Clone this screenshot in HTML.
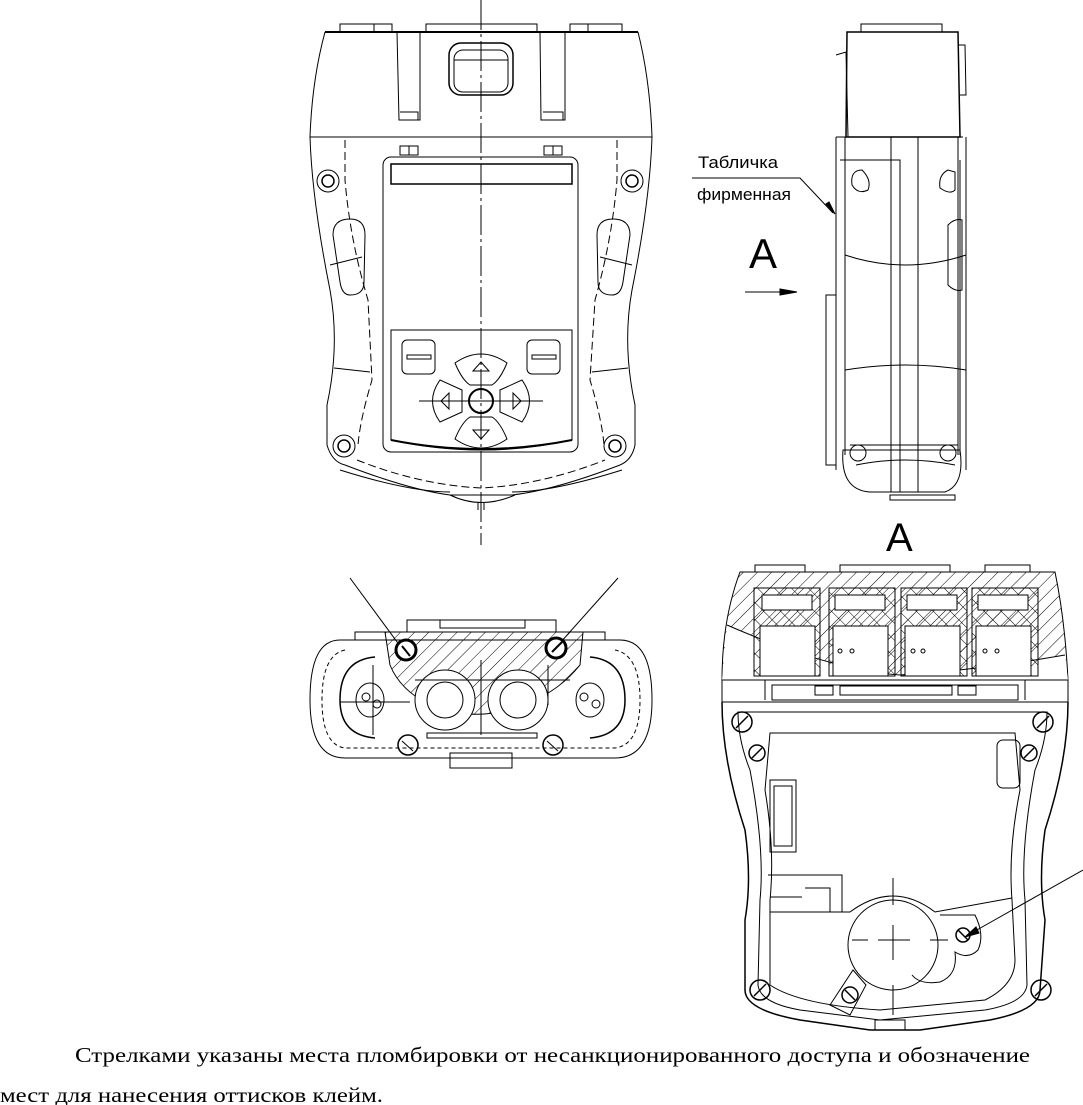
<!DOCTYPE html>
<html><head><meta charset="utf-8"><style>
html,body{margin:0;padding:0;background:#fff;}
svg{display:block;}
text{font-family:"Liberation Sans",sans-serif;}
</style></head><body>
<svg width="1083" height="1105" viewBox="0 0 1083 1105" xmlns="http://www.w3.org/2000/svg" fill="none" stroke="#000" stroke-width="1">
<defs>
<pattern id="h" width="10" height="10" patternUnits="userSpaceOnUse" patternTransform="rotate(45)"><line x1="0" y1="0" x2="0" y2="10" stroke="#000" stroke-width="1"/></pattern>
<pattern id="x" width="12" height="12" patternUnits="userSpaceOnUse" patternTransform="rotate(45)"><line x1="0" y1="0" x2="0" y2="12" stroke="#000"/><line x1="0" y1="0" x2="12" y2="0" stroke="#000"/></pattern>
</defs>

<!-- ===== FRONT VIEW ===== -->
<line x1="481" y1="0" x2="481" y2="545" stroke-dasharray="30,4,3,4"/>
<rect x="340" y="24" width="52" height="8"/><line x1="374" y1="24" x2="374" y2="32"/>
<rect x="426" y="24" width="111" height="8"/>
<rect x="570" y="24" width="52" height="8"/><line x1="588" y1="24" x2="588" y2="32"/>
<line x1="325" y1="32" x2="638" y2="32" stroke-width="2"/>
<path d="M325 32 Q312 80 310 137 L652 137 Q650 80 638 32"/>
<path d="M397 32 L399 120 L420 120 L420 32 M400 112 H418 V120"/>
<path d="M540 32 L541 120 L565 120 L565 32 M543 112 H563 V120"/>
<rect x="449" y="43" width="64" height="52" rx="12" stroke-width="1.5"/>
<rect x="454" y="50" width="54" height="42" rx="9"/>
<line x1="454" y1="60" x2="508" y2="60"/>
<rect x="400" y="146" width="18" height="9"/><line x1="409" y1="146" x2="409" y2="155"/>
<rect x="544" y="146" width="18" height="9"/><line x1="553" y1="146" x2="553" y2="155"/>
<path d="M310 137 Q312 200 330 290 Q340 345 327 405 L327 445 Q332 462 345 465 Q410 490 450 495 L512 495 Q555 490 620 465 Q632 460 635 445 L635 405 Q622 345 632 290 Q650 200 652 137"/>
<path d="M345 140 L345 180 Q350 240 368 300 L372 380 Q360 420 358 445" stroke-dasharray="8,4"/>
<path d="M617 140 L617 180 Q612 240 595 300 L590 380 Q602 420 604 445" stroke-dasharray="8,4"/>
<path d="M357 460 Q420 485 481 488 Q542 485 605 460" stroke-dasharray="8,4"/>
<path d="M340 470 Q410 492 450 492 M512 492 Q552 492 622 470"/>
<rect x="383" y="157" width="195" height="295" rx="8" ry="8"/>
<rect x="391" y="164" width="181" height="20" stroke-width="1.5"/>
<path d="M391 330 H572 V440 Q481 460 391 440 Z"/>
<path d="M391 440 Q481 458 572 440" stroke-width="2"/>
<rect x="402" y="340" width="33" height="34" rx="5"/><rect x="407" y="355" width="24" height="4"/>
<rect x="527" y="340" width="33" height="34" rx="5"/><rect x="532" y="355" width="24" height="4"/>
<path d="M455 363 Q481 345 507 363 Q500 380 492 385 L470 385 Q462 380 455 363 Z"/>
<path d="M455 439 Q481 457 507 439 Q500 422 492 417 L470 417 Q462 422 455 439 Z"/>
<path d="M440 380 Q425 401 440 422 L462 412 L462 390 Z"/>
<path d="M522 380 Q537 401 522 422 L500 412 L500 390 Z"/>
<circle cx="481" cy="401" r="12" stroke-width="2"/>
<path d="M473 371 L481 362 L489 371 Z M473 430 L481 439 L489 430 Z M449 393 L441 401 L449 409 Z M513 393 L521 401 L513 409 Z"/>
<line x1="419" y1="401" x2="543" y2="401"/>
<circle cx="328" cy="181" r="11"/><circle cx="328" cy="181" r="6" stroke-width="1.5"/>
<circle cx="632" cy="181" r="11"/><circle cx="632" cy="181" r="6" stroke-width="1.5"/>
<circle cx="344" cy="446" r="11"/><circle cx="344" cy="446" r="6" stroke-width="1.5"/>
<circle cx="615" cy="446" r="11"/><circle cx="615" cy="446" r="6" stroke-width="1.5"/>
<path d="M333 235 Q333 219 350 219 Q365 219 365 235 L364 282 Q364 295 350 295 Q342 295 340 282 Z"/>
<path d="M630 235 Q630 219 613 219 Q597 219 597 235 L598 282 Q598 295 612 295 Q621 295 623 282 Z"/>
<path d="M330 265 L362 257 M632 265 L600 257 M334 368 L370 372 M628 368 L592 372"/>
<path d="M450 495 Q481 510 515 495 M478 502 V510 M484 502 V510"/>

<!-- ===== SIDE VIEW ===== -->
<text x="698" y="168" font-size="17" fill="#000" stroke="none" textLength="80" lengthAdjust="spacingAndGlyphs">Табличка</text>
<text x="697" y="200" font-size="17" fill="#000" stroke="none" textLength="94" lengthAdjust="spacingAndGlyphs">фирменная</text>
<path d="M692 178 H800 L833 213"/>
<path d="M826 204 L835 214 L829 202 Z" fill="#000"/>
<text x="749" y="268" font-size="42" fill="#000" stroke="none">A</text>
<line x1="745" y1="292" x2="785" y2="292"/>
<path d="M780 289 L797 292 L780 295 Z" fill="#000"/>
<rect x="861" y="24" width="81" height="8"/>
<path d="M847 32 H958 L960 137 H846 Z" stroke-width="1.5"/>
<path d="M836 137 H963 M836 137 L836 470 M966 137 L966 470"/>
<path d="M845 137 V455 M958 137 V455 M960 160 V455"/>
<path d="M836 55 L846 52 L848 137"/>
<path d="M958 45 L965 45 L966 95 L960 95"/>
<rect x="826" y="295" width="10" height="170"/>
<path d="M891 137 V492 M918 137 V492 M840 160 H900 V492" />
<path d="M845 255 Q905 275 966 255"/><path d="M845 370 Q905 360 966 370"/>
<path d="M862 170 Q850 170 852 185 Q858 195 868 190 Q872 180 862 170 Z"/>
<path d="M948 170 Q938 175 940 188 Q950 195 955 190 L955 172 Z"/>
<path d="M948 225 Q955 218 962 220 L962 290 Q955 292 948 285 Z"/>
<path d="M843 450 Q840 490 870 492 L945 492 Q965 485 960 450 Z"/>
<path d="M850 445 H958 M856 465 Q905 455 955 465"/>
<circle cx="858" cy="453" r="8"/><circle cx="948" cy="453" r="8"/>
<path d="M890 495 H955 V500 H890 Z"/>

<!-- ===== BOTTOM VIEW ===== -->
<path d="M350 578 L403 650 M618 578 L560 643"/>
<rect x="407" y="620" width="149" height="12"/><rect x="440" y="620" width="85" height="8"/>
<path d="M355 632 H605 V640 H355 Z"/>
<path d="M340 640 Q310 640 310 700 Q310 758 345 758 L615 758 Q652 758 652 700 Q652 640 620 640 Z"/>
<path d="M345 650 Q322 655 322 700 Q322 745 345 748 L615 748 Q640 745 640 700 Q640 655 615 650" stroke-dasharray="4,3"/>
<path d="M375 657 Q340 660 340 700 Q340 735 375 738 M590 657 Q625 660 625 700 Q625 735 590 738" stroke-width="1.5"/>
<path d="M385 632 L583 632 L580 665 Q560 690 530 702 Q480 725 430 705 Q400 690 390 665 Z" fill="url(#h)"/>
<circle cx="445" cy="700" r="30" fill="#fff"/><circle cx="518" cy="700" r="30" fill="#fff"/>
<circle cx="445" cy="700" r="18"/><circle cx="518" cy="700" r="18"/>
<circle cx="406" cy="650" r="10" stroke-width="3" fill="#fff"/><line x1="402" y1="646" x2="410" y2="656" stroke-width="2"/>
<circle cx="556" cy="648" r="10" stroke-width="3" fill="#fff"/><line x1="552" y1="652" x2="562" y2="642" stroke-width="2"/>
<circle cx="408" cy="745" r="10" stroke-width="1.5"/><line x1="402" y1="741" x2="413" y2="751"/>
<circle cx="553" cy="745" r="10" stroke-width="1.5"/><line x1="547" y1="741" x2="558" y2="751"/>
<ellipse cx="370" cy="700" rx="14" ry="17"/><ellipse cx="590" cy="700" rx="14" ry="17"/>
<circle cx="366" cy="697" r="4"/><circle cx="377" cy="704" r="4"/><circle cx="584" cy="697" r="4"/><circle cx="596" cy="704" r="4"/>
<path d="M340 702 H410 M373 665 V735 M415 680 H570 M481 660 V735 M548 665 V705"/>
<rect x="427" y="733" width="110" height="5"/>
<rect x="450" y="753" width="62" height="15"/>

<!-- ===== VIEW A ===== -->
<text x="886" y="551" font-size="40" fill="#000" stroke="none">A</text>
<path d="M1083 870 L968 935"/><path d="M965 937 L976 927 L979 933 Z" fill="#000"/>
<rect x="755" y="565" width="50" height="7"/><rect x="840" y="565" width="110" height="7"/><rect x="985" y="565" width="45" height="7"/>
<path d="M740 572 H1055 Q1065 620 1068 680 L722 680 Q722 620 740 572 Z" fill="url(#h)"/>
<path d="M727 625 Q830 670 900 675 Q980 670 1065 655 L1068 680 L722 680 Z" fill="#fff" stroke="none"/>
<path d="M727 625 Q830 670 900 675 Q980 670 1065 655"/>
<g fill="url(#x)">
<rect x="754" y="588" width="66" height="88"/><rect x="829" y="588" width="66" height="88"/>
<rect x="901" y="588" width="66" height="88"/><rect x="972" y="588" width="66" height="88"/>
</g>
<g fill="#fff">
<rect x="760" y="626" width="55" height="50"/><rect x="833" y="626" width="55" height="50"/>
<rect x="905" y="626" width="55" height="50"/><rect x="976" y="626" width="55" height="50"/>
<rect x="762" y="595" width="50" height="15"/><rect x="835" y="595" width="50" height="15"/>
<rect x="907" y="595" width="50" height="15"/><rect x="978" y="595" width="50" height="15"/>
</g>
<circle cx="840" cy="651" r="2"/><circle cx="852" cy="651" r="2"/><circle cx="913" cy="651" r="2"/><circle cx="923" cy="651" r="2"/><circle cx="985" cy="651" r="2"/><circle cx="997" cy="651" r="2"/>
<path d="M722 680 V702 H1068 V680 Z M765 680 V700 M1025 680 V700"/>
<path d="M772 685 H1018 V700 H772 Z"/><rect x="815" y="686" width="18" height="9"/><rect x="958" y="686" width="18" height="9"/><rect x="840" y="686" width="112" height="9"/>
<path d="M722 702 Q722 760 745 830 Q752 880 745 920 L745 990 Q745 1010 800 1020 L870 1030 L920 1030 L990 1020 Q1040 1010 1040 990 L1045 920 Q1038 880 1045 830 Q1068 760 1068 702" stroke-width="1.5"/>
<path d="M738 712 Q738 740 750 770 Q765 850 760 900 L758 985 Q760 1003 800 1010 L880 1020 L985 1010 Q1025 1003 1027 985 L1025 900 Q1020 850 1035 770 Q1047 740 1047 712 Z"/>
<path d="M770 733 L765 790 Q775 850 770 900 L770 985 Q800 1005 880 1010 L985 1000 Q1015 985 1015 960 L1012 900 Q1008 850 1020 790 L1015 733 Z"/>
<path d="M773 733 H1012"/>
<path d="M770 912 H840 L850 912 Q893 880 935 912 L1012 898"/>
<rect x="770" y="780" width="26" height="72"/><rect x="774" y="786" width="18" height="60"/>
<rect x="997" y="740" width="23" height="48" rx="6"/>
<path d="M768 875 H842 V912 M805 888 H830 V912 M770 897 H802"/>
<circle cx="893" cy="945" r="45"/>
<path d="M852 940 H868 M878 940 H910 M893 925 V960 M930 940 H948 M893 878 V905 M893 985 V1015"/>
<path d="M940 915 H975 Q985 935 978 950 Q968 960 955 952 Q958 975 940 982 Q920 985 912 975" />
<path d="M853 970 L866 985 L850 1015 L830 1005 Z"/>
<g stroke-width="1.5">
<circle cx="742" cy="722" r="10"/><line x1="736" y1="728" x2="748" y2="716"/>
<circle cx="1043" cy="722" r="10"/><line x1="1037" y1="728" x2="1049" y2="716"/>
<circle cx="757" cy="753" r="8"/><line x1="752" y1="758" x2="762" y2="748"/>
<circle cx="1029" cy="753" r="8"/><line x1="1024" y1="758" x2="1034" y2="748"/>
<circle cx="760" cy="990" r="10"/><line x1="754" y1="996" x2="766" y2="984"/>
<circle cx="1041" cy="990" r="10"/><line x1="1035" y1="996" x2="1047" y2="984"/>
<circle cx="850" cy="995" r="8"/><line x1="845" y1="990" x2="855" y2="1000"/>
<circle cx="963" cy="935" r="7"/><line x1="958" y1="930" x2="968" y2="940"/>
</g>
<path d="M875 1020 H905 V1030 H875 Z"/>

<!-- ===== TEXT ===== -->
<text x="75" y="1062" font-size="21" fill="#000" stroke="none" style="font-family:'Liberation Serif',serif" textLength="955" lengthAdjust="spacingAndGlyphs">Стрелками указаны места пломбировки от несанкционированного доступа и обозначение</text>
<text x="0" y="1102" font-size="21" fill="#000" stroke="none" style="font-family:'Liberation Serif',serif" textLength="383" lengthAdjust="spacingAndGlyphs">мест для нанесения оттисков клейм.</text>
</svg>
</body></html>
